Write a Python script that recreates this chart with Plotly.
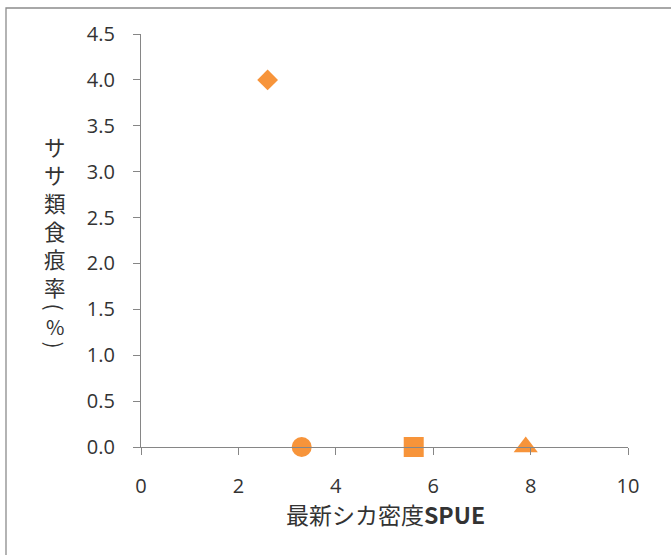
import plotly.graph_objects as go

# ---- data ----
spue = [2.6, 3.3, 5.6, 7.9]          # 最新シカ密度SPUE
feeding_rate = [4.0, 0.0, 0.0, 0.0]  # ササ類食痕率(%)
x_ticks = [0, 2, 4, 6, 8, 10]
y_ticks = [0.0, 0.5, 1.0, 1.5, 2.0, 2.5, 3.0, 3.5, 4.0, 4.5]
x_title_jp = "最新シカ密度"
x_title_en = "SPUE"
y_title_main = "ササ類食痕率"
y_title_unit = ["(", "%", ")"]

# ---- styles ----
symbols = ["diamond", "circle", "square", "triangle-up"]
sizes = [16, 20, 20, 21]
orange = "#F7943A"
axis_grey = "#868686"
text_col = "#333333"
tick_font = dict(family="Open Sans, Liberation Sans, sans-serif", size=20, color=text_col)
cjk = "Noto Sans CJK JP"

fig = go.Figure()
fig.add_trace(go.Scatter(
    x=spue, y=feeding_rate, mode="markers", cliponaxis=False,
    marker=dict(symbol=symbols, size=sizes, color=orange, opacity=1, line=dict(width=0)),
    showlegend=False, hoverinfo="x+y",
))

L, R, T, B = 141, 43, 34, 108
W, H = 671, 555
pw, ph = W - L - R, H - T - B

def px_x(px):
    return (px - L) / pw

def px_y(py):
    return (H - B - py) / ph

fig.update_layout(
    width=W, height=H,
    margin=dict(l=L, r=R, t=T, b=B, pad=0),
    paper_bgcolor="white", plot_bgcolor="white",
    xaxis=dict(range=[0, 10], tickvals=x_ticks, showgrid=False, zeroline=False,
               showline=True, linecolor=axis_grey, linewidth=1.3,
               ticks="outside", ticklen=7, tickcolor=axis_grey, tickwidth=1.3,
               tickfont=tick_font, ticklabelstandoff=14),
    yaxis=dict(range=[0, 4.5], tickvals=y_ticks, tickformat=".1f", showgrid=False,
               zeroline=False, showline=True, linecolor=axis_grey, linewidth=1.3,
               ticks="outside", ticklen=7, tickcolor=axis_grey, tickwidth=1.3,
               tickfont=tick_font, ticklabelstandoff=14),
    font=dict(family=cjk, color=text_col),
)

# outer chart frame
fig.add_shape(type="rect", xref="paper", yref="paper",
              x0=px_x(6), x1=px_x(W + 20), y0=px_y(H + 20), y1=px_y(8),
              line=dict(color="#8C8C8C", width=1.3), fillcolor="rgba(0,0,0,0)", layer="below")

# x-axis title
fig.add_annotation(xref="paper", yref="paper", x=px_x(385), y=px_y(514),
                   text=x_title_jp + "<b>" + x_title_en + "</b>", showarrow=False,
                   font=dict(family=cjk, size=23, color=text_col),
                   xanchor="center", yanchor="middle")

# y-axis title, written vertically: main characters stacked one per line
title_x = px_x(54.5)
fig.add_annotation(xref="paper", yref="paper", x=title_x, y=px_y(216),
                   text="<br>".join(y_title_main), showarrow=False,
                   font=dict(family=cjk, size=21.5, color=text_col),
                   xanchor="center", yanchor="middle")
# unit in brackets, brackets turned sideways as in vertical writing
unit_y = [307, 326, 345]
unit_angle = [90, 0, 90]
unit_size = [21, 20, 21]
for ch, yc, ang, fs in zip(y_title_unit, unit_y, unit_angle, unit_size):
    fig.add_annotation(xref="paper", yref="paper", x=title_x, y=px_y(yc),
                       text=ch, showarrow=False, textangle=ang,
                       font=dict(family=cjk, size=fs, color=text_col),
                       xanchor="center", yanchor="middle")

fig.write_html("out.html", post_script="document.body.style.margin='0';",
               config={"displayModeBar": False})
